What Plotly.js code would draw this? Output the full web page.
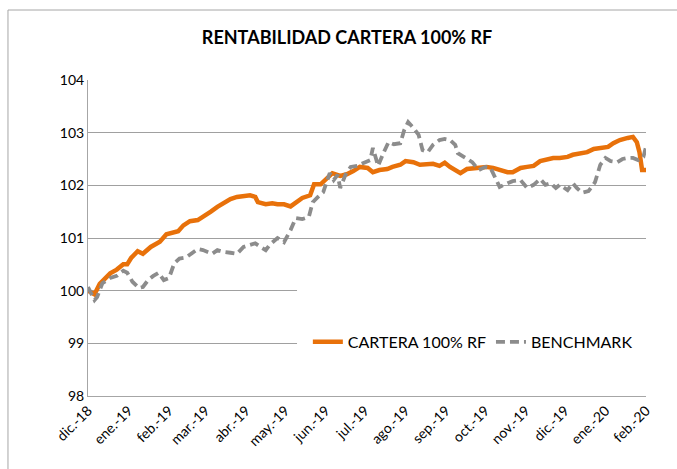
<!DOCTYPE html>
<html>
<head>
<meta charset="utf-8">
<script src="https://cdn.plot.ly/plotly-3.0.1.min.js"></script>
<style>
html,body{margin:0;padding:0;background:#fff;}
#chart{width:677px;height:469px;}
</style>
</head>
<body>
<div id="chart"></div>
<script>
const chartTitle = "RENTABILIDAD CARTERA 100% RF";
const seriesNames = ["CARTERA 100% RF", "BENCHMARK"];

const cartDates = ["2018-12-01","2018-12-06","2018-12-10","2018-12-18","2018-12-23","2018-12-28","2018-12-31",
"2019-01-03","2019-01-08","2019-01-12","2019-01-18","2019-01-22","2019-01-25","2019-01-30",
"2019-02-03","2019-02-08","2019-02-12","2019-02-17","2019-02-23","2019-02-27",
"2019-03-05","2019-03-10","2019-03-15","2019-03-20","2019-03-25","2019-03-30",
"2019-04-04","2019-04-08","2019-04-10","2019-04-16","2019-04-21","2019-04-25","2019-04-30",
"2019-05-05","2019-05-09","2019-05-14","2019-05-20","2019-05-23","2019-05-28","2019-05-31",
"2019-06-06","2019-06-12","2019-06-17","2019-06-22","2019-06-27",
"2019-07-03","2019-07-07","2019-07-12","2019-07-18","2019-07-22","2019-07-28",
"2019-08-01","2019-08-07","2019-08-12","2019-08-18","2019-08-22","2019-08-27","2019-08-31",
"2019-09-04","2019-09-08","2019-09-12","2019-09-17","2019-09-22","2019-09-27",
"2019-10-02","2019-10-07","2019-10-12","2019-10-18","2019-10-22","2019-10-28",
"2019-11-02","2019-11-07","2019-11-12","2019-11-17","2019-11-22","2019-11-27",
"2019-12-03","2019-12-07","2019-12-13","2019-12-18","2019-12-23","2019-12-28",
"2020-01-03","2020-01-07","2020-01-12","2020-01-18","2020-01-22","2020-01-25","2020-01-27","2020-01-29","2020-02-01"];
const cartValues = [100.00,99.93,100.13,100.33,100.40,100.50,100.50,
100.62,100.75,100.70,100.83,100.90,100.93,101.07,
101.10,101.13,101.24,101.32,101.34,101.40,
101.50,101.59,101.67,101.74,101.78,101.80,
101.81,101.78,101.68,101.64,101.66,101.64,101.64,
101.60,101.68,101.76,101.81,102.02,102.02,102.10,
102.23,102.18,102.21,102.27,102.35,
102.33,102.25,102.29,102.31,102.35,102.39,
102.46,102.44,102.39,102.41,102.41,102.37,102.43,
102.35,102.29,102.23,102.31,102.33,102.33,
102.35,102.33,102.29,102.25,102.25,102.33,
102.35,102.37,102.46,102.50,102.52,102.52,
102.54,102.58,102.61,102.63,102.69,102.71,
102.73,102.80,102.86,102.90,102.92,102.82,102.63,102.29,102.29];

const benchDates = ["2018-12-01","2018-12-03","2018-12-06","2018-12-08","2018-12-12","2018-12-18","2018-12-23","2018-12-28","2018-12-31",
"2019-01-04","2019-01-09","2019-01-12","2019-01-16","2019-01-20","2019-01-24","2019-01-28",
"2019-02-01","2019-02-05","2019-02-09","2019-02-14","2019-02-18","2019-02-23","2019-02-27",
"2019-03-03","2019-03-06","2019-03-10","2019-03-14","2019-03-20","2019-03-25","2019-03-30",
"2019-04-04","2019-04-08","2019-04-12","2019-04-16","2019-04-19","2019-04-25","2019-04-30",
"2019-05-05","2019-05-09","2019-05-14","2019-05-19","2019-05-22","2019-05-26","2019-05-30",
"2019-06-04","2019-06-07","2019-06-10","2019-06-12","2019-06-16","2019-06-20","2019-06-25","2019-06-30",
"2019-07-05","2019-07-07","2019-07-11","2019-07-15","2019-07-19","2019-07-23","2019-07-28","2019-07-31",
"2019-08-03","2019-08-07","2019-08-11","2019-08-14","2019-08-18","2019-08-22","2019-08-27","2019-08-31",
"2019-09-04","2019-09-08","2019-09-10","2019-09-16","2019-09-21","2019-09-26",
"2019-10-01","2019-10-05","2019-10-09","2019-10-12","2019-10-18","2019-10-22","2019-10-28",
"2019-11-02","2019-11-07","2019-11-12","2019-11-16","2019-11-20","2019-11-24","2019-11-27",
"2019-12-03","2019-12-07","2019-12-10","2019-12-14","2019-12-19","2019-12-24","2019-12-28",
"2020-01-01","2020-01-05","2020-01-10","2020-01-14","2020-01-18","2020-01-22","2020-01-26","2020-01-30","2020-02-01"];
const benchValues = [100.07,99.97,99.82,99.88,100.14,100.24,100.28,100.38,100.34,
100.17,100.05,100.07,100.20,100.28,100.34,100.20,
100.24,100.52,100.61,100.63,100.70,100.79,100.77,
100.74,100.70,100.77,100.74,100.72,100.70,100.83,
100.87,100.90,100.83,100.77,100.87,101.00,100.92,
101.15,101.38,101.36,101.40,101.68,101.78,101.87,
102.23,102.10,102.20,101.95,102.20,102.35,102.37,102.43,
102.48,102.71,102.37,102.61,102.82,102.78,102.80,103.05,
103.20,103.09,102.96,102.67,102.63,102.77,102.86,102.88,
102.86,102.77,102.61,102.52,102.44,102.29,
102.35,102.33,102.14,101.97,102.04,102.08,102.10,
101.95,102.01,102.12,102.01,102.04,101.95,102.01,
101.91,102.04,101.95,101.86,101.89,102.06,102.39,
102.52,102.46,102.44,102.50,102.52,102.52,102.48,102.54,102.73];

const monthTicks = ["2018-12-01","2019-01-01","2019-02-01","2019-03-01","2019-04-01","2019-05-01","2019-06-01",
"2019-07-01","2019-08-01","2019-09-01","2019-10-01","2019-11-01","2019-12-01","2020-01-01","2020-02-01"];
const monthLabels = ["dic.-18","ene.-19","feb.-19","mar.-19","abr.-19","may.-19","jun.-19",
"jul.-19","ago.-19","sep.-19","oct.-19","nov.-19","dic.-19","ene.-20","feb.-20"];
const yTicks = [98, 99, 100, 101, 102, 103, 104];

const FONT = "Lato, 'Open Sans', sans-serif";

const traces = [
  {x: cartDates, y: cartValues, name: seriesNames[0], type: "scatter", mode: "lines",
   line: {color: "#E8710A", width: 4.5}},
  {x: benchDates, y: benchValues, name: seriesNames[1], type: "scatter", mode: "lines",
   line: {color: "#8C8C8C", width: 3.8, dash: "9px,5px"}}
];

const layout = {
  width: 677, height: 469,
  paper_bgcolor: "#ffffff", plot_bgcolor: "#ffffff",
  margin: {l: 88, r: 31, t: 80, b: 73, pad: 0},
  font: {family: FONT, color: "#000000", size: 14},
  title: {text: "<b>" + chartTitle + "</b>", x: 0.5126, xref: "container", xanchor: "center",
          y: 0.92, yref: "container", yanchor: "middle",
          font: {family: FONT, size: 18, color: "#000000"}},
  xaxis: {type: "date", range: ["2018-12-01", "2020-02-01"], tickmode: "array",
          tickvals: monthTicks, ticktext: monthLabels, tickangle: -45,
          showgrid: false, showline: true, linecolor: "#A6A6A6", linewidth: 1,
          ticks: "", zeroline: false, tickfont: {family: FONT, size: 14, color: "#000"}},
  yaxis: {range: [98, 104], tickmode: "array", tickvals: yTicks,
          showgrid: true, gridcolor: "#A0A0A0", gridwidth: 1,
          showline: true, linecolor: "#A6A6A6", linewidth: 1,
          ticks: "", ticklen: 0, zeroline: false,
          tickfont: {family: FONT, size: 14, color: "#000"}},
  showlegend: true,
  legend: {orientation: "h", x: 0.394, xanchor: "left", y: 0.171, yanchor: "middle",
           bgcolor: "rgba(255,255,255,0)", font: {family: FONT, size: 16, color: "#000"},
           traceorder: "normal", itemwidth: 30},
  shapes: [
    {type: "rect", xref: "paper", yref: "paper", x0: 0.3746, x1: 1.0, y0: 0.04, y1: 0.44,
     fillcolor: "#ffffff", line: {width: 0}, layer: "above"},
    {type: "rect", xref: "paper", yref: "paper", x0: -0.1434, x1: 1.2, y0: -0.25, y1: 1.2215,
     fillcolor: "rgba(0,0,0,0)", line: {color: "#A6A6A6", width: 1}, layer: "above"}
  ]
};

Plotly.newPlot("chart", traces, layout, {displayModeBar: false, staticPlot: true});
</script>
</body>
</html>
